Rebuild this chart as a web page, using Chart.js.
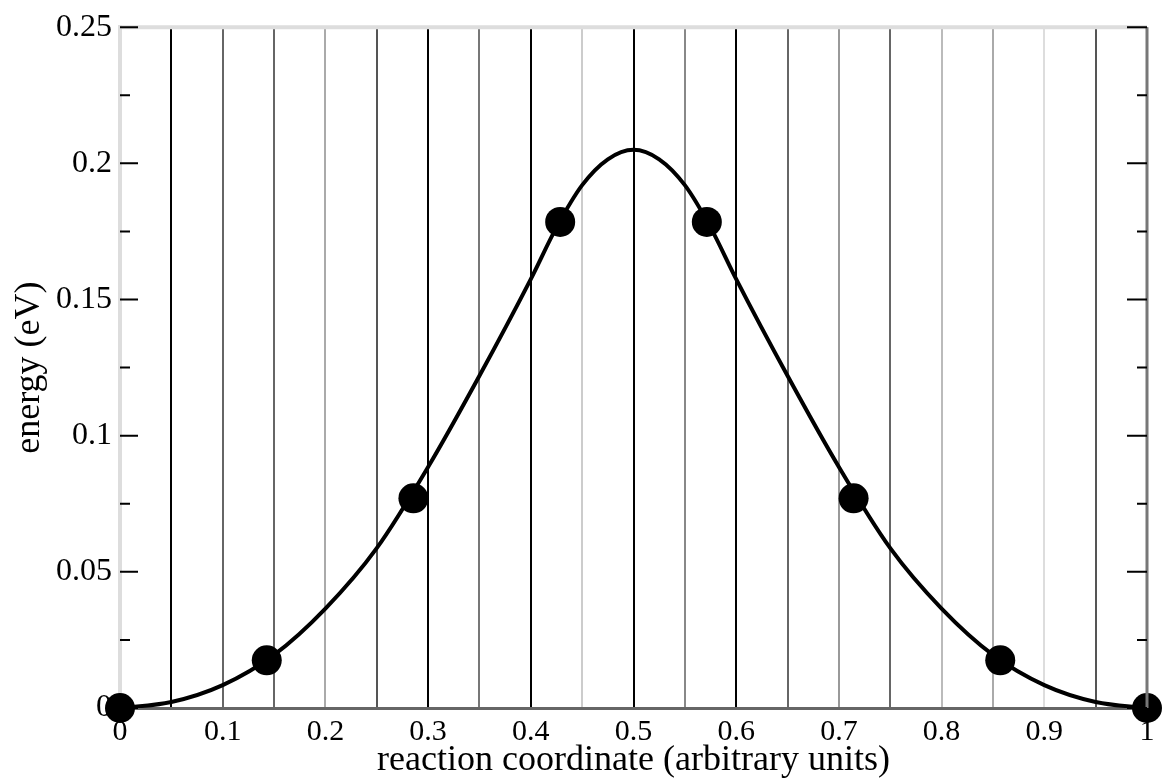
<!DOCTYPE html>
<html>
<head>
<meta charset="utf-8">
<script src="https://cdn.jsdelivr.net/npm/chart.js@4/dist/chart.umd.min.js"></script>
<style>
    html, body { margin: 0; padding: 0; background: #fff; }
    #wrap { width: 1162px; height: 782px; }
</style>
</head>
<body>
<div id="wrap"><canvas id="graficaEnergia" width="1162" height="782"></canvas></div>
<script>
// ==========================================
// DATOS
// ==========================================
const imageX = [0, 0.1429, 0.2857, 0.4286, 0.5714, 0.7143, 0.8571, 1];
const imageEnergy = [0, 0.0175, 0.077, 0.1785, 0.1785, 0.077, 0.0175, 0];

const curveX = [0, 0.05, 0.1, 0.15, 0.2, 0.25, 0.3, 0.35, 0.4, 0.425, 0.45, 0.475, 0.5,
                0.525, 0.55, 0.575, 0.6, 0.65, 0.7, 0.75, 0.8, 0.85, 0.9, 0.95, 1];
const curveEnergy = [0, 0.0022, 0.0084, 0.0195, 0.0365, 0.0587, 0.0885, 0.122, 0.1575, 0.1765, 0.192, 0.2015, 0.205,
                     0.2015, 0.192, 0.1765, 0.1575, 0.122, 0.0885, 0.0587, 0.0365, 0.0195, 0.0084, 0.0022, 0];

const xTitle = 'reaction coordinate (arbitrary units)';
const yTitle = 'energy (eV)';

// tonos de las lineas verticales (uno por cada 0.05)
const gridShades = ['#dddddd', '#000000', '#666666', '#666666', '#aaaaaa', '#555555', '#000000',
                    '#777777', '#000000', '#cccccc', '#000000', '#888888', '#000000', '#666666',
                    '#999999', '#666666', '#bbbbbb', '#aaaaaa', '#dddddd', '#555555', '#777777'];

const serif = '"Liberation Serif", "DejaVu Serif", serif';

function toPoints(xs, ys) {
    return xs.map((x, i) => ({ x: x, y: ys[i] }));
}

function formatTick(value) {
    return String(Number(value.toFixed(3)));
}

// ==========================================
// MARCO Y TICKS HACIA DENTRO
// ==========================================
const framePlugin = {
    id: 'frame',
    afterDatasetsDraw(chart) {
        const { ctx, chartArea: a, scales } = chart;
        const y = scales.y;
        ctx.save();

        // borde superior y derecho
        ctx.lineWidth = 4;
        ctx.strokeStyle = '#dddddd';
        ctx.beginPath();
        ctx.moveTo(a.left, a.top);
        ctx.lineTo(a.right, a.top);
        ctx.stroke();
        ctx.lineWidth = 3;
        ctx.strokeStyle = '#777777';
        ctx.beginPath();
        ctx.moveTo(a.right, a.top);
        ctx.lineTo(a.right, a.bottom);
        ctx.stroke();

        // ticks del eje y (mayores y menores) a ambos lados
        ctx.strokeStyle = '#000';
        ctx.lineWidth = 2;
        const vals = y.ticks.map(t => t.value);
        vals.forEach((v, i) => {
            const py = y.getPixelForValue(v);
            ctx.beginPath();
            ctx.moveTo(a.left, py); ctx.lineTo(a.left + 18, py);
            ctx.moveTo(a.right, py); ctx.lineTo(a.right - 20, py);
            ctx.stroke();
            if (i < vals.length - 1) {
                const pm = y.getPixelForValue((v + vals[i + 1]) / 2);
                ctx.beginPath();
                ctx.moveTo(a.left, pm); ctx.lineTo(a.left + 10, pm);
                ctx.moveTo(a.right, pm); ctx.lineTo(a.right - 10, pm);
                ctx.stroke();
            }
        });
        ctx.restore();
    }
};

// ==========================================
// GRAFICA
// ==========================================
const ctx = document.getElementById('graficaEnergia').getContext('2d');

new Chart(ctx, {
    type: 'scatter',
    data: {
        datasets: [
            {
                label: 'images',
                data: toPoints(imageX, imageEnergy),
                showLine: false,
                pointRadius: 15,
                pointHoverRadius: 15,
                pointBackgroundColor: '#000',
                pointBorderWidth: 0,
                clip: false,
                order: 0
            },
            {
                label: 'curve',
                data: toPoints(curveX, curveEnergy),
                showLine: true,
                borderColor: '#000',
                borderWidth: 4,
                pointRadius: 0,
                cubicInterpolationMode: 'monotone',
                order: 1
            }
        ]
    },
    options: {
        responsive: false,
        animation: false,
        devicePixelRatio: 1,
        layout: { padding: { top: 22, right: 6, left: 0, bottom: 0 } },
        plugins: {
            legend: { display: false },
            tooltip: { enabled: false }
        },
        scales: {
            x: {
                type: 'linear',
                min: 0,
                max: 1,
                afterFit: s => { s.height = 74; },
                border: { display: true, color: '#666666', width: 3 },
                grid: {
                    drawTicks: false,
                    lineWidth: 2,
                    color: c => gridShades[c.index] || '#777'
                },
                ticks: {
                    stepSize: 0.05,
                    autoSkip: false,
                    maxRotation: 0,
                    padding: 6,
                    color: '#000',
                    font: { family: serif, size: 30 },
                    callback: (v, i) => (i % 2 === 0 ? formatTick(v) : '')
                },
                title: {
                    display: true,
                    text: xTitle,
                    color: '#000',
                    font: { family: serif, size: 36 },
                    padding: { top: 0, bottom: 0 }
                }
            },
            y: {
                min: 0,
                max: 0.25,
                afterFit: s => { s.width = 120; },
                border: { display: true, color: '#dddddd', width: 4 },
                grid: { drawOnChartArea: false, drawTicks: false },
                ticks: {
                    stepSize: 0.05,
                    padding: 8,
                    color: '#000',
                    font: { family: serif, size: 32 },
                    callback: v => formatTick(v)
                },
                title: {
                    display: true,
                    text: yTitle,
                    color: '#000',
                    font: { family: serif, size: 36 },
                    padding: { top: 8, bottom: 0 }
                }
            }
        }
    },
    plugins: [framePlugin]
});
</script>
</body>
</html>
